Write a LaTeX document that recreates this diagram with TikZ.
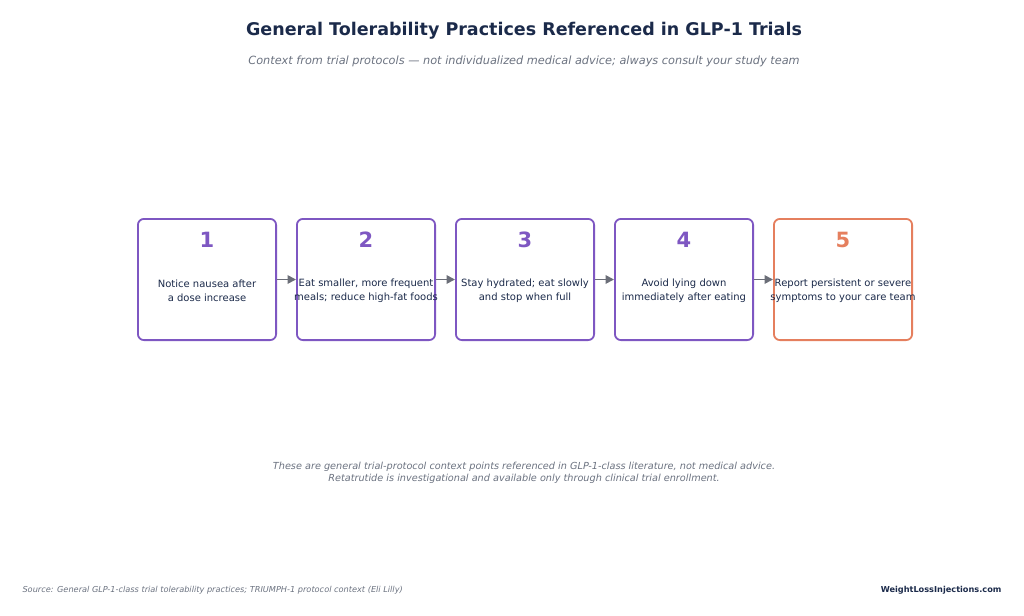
\documentclass[tikz,border=0pt]{standalone}
\usepackage{fontspec}
\setmainfont{DejaVu Sans}
\usepackage{tikz}
\usetikzlibrary{positioning,arrows.meta}

\definecolor{navy}{HTML}{1B2A4A}
\definecolor{subgray}{HTML}{6B7280}
\definecolor{stepviolet}{HTML}{7E57C2}
\definecolor{stepcoral}{HTML}{E57F5E}
\definecolor{arrowgray}{HTML}{6B6E78}

\tikzset{
  stepbox/.style={draw=stepviolet, line width=1.8pt, rounded corners=6pt, minimum width=138.2pt, minimum height=121.2pt, inner sep=0pt, fill=white},
  stepnum/.style={font=\fontsize{21}{21}\selectfont\bfseries, text=stepviolet},
  steptext/.style={font=\fontsize{10}{14}\selectfont, text=navy, align=center},
  flow/.style={-{Triangle[length=8.5pt,width=8.5pt]}, draw=arrowgray, line width=1.8pt}
}

\begin{document}
\begin{tikzpicture}[x=1pt,y=-1pt]
  \useasboundingbox (0,0) rectangle (1024,615);

  \node[font=\fontsize{17.5}{17.5}\selectfont\bfseries, text=navy] (title) at (524,31) {General Tolerability Practices Referenced in GLP-1 Trials};
  \node[font=\fontsize{11.3}{13}\selectfont\itshape, text=subgray] (subtitle) at (524,61) {Context from trial protocols — not individualized medical advice; always consult your study team};

  \node[stepbox] (box1) at (207,279.5) {};
  \node[stepbox, right=19pt of box1] (box2) {};
  \node[stepbox, right=19pt of box2] (box3) {};
  \node[stepbox, right=19pt of box3] (box4) {};
  \node[stepbox, draw=stepcoral, right=19pt of box4] (box5) {};

  \node[stepnum] (num1) at ([yshift=40pt]box1.center) {1};
  \node[stepnum] (num2) at ([yshift=40pt]box2.center) {2};
  \node[stepnum] (num3) at ([yshift=40pt]box3.center) {3};
  \node[stepnum] (num4) at ([yshift=40pt]box4.center) {4};
  \node[stepnum, text=stepcoral] (num5) at ([yshift=40pt]box5.center) {5};

  \node[steptext] (txt1) at ([yshift=-11pt]box1.center) {Notice nausea after\\a dose increase};
  \node[steptext] (txt2) at ([yshift=-11pt]box2.center) {Eat smaller, more frequent\\meals; reduce high-fat foods};
  \node[steptext] (txt3) at ([yshift=-11pt]box3.center) {Stay hydrated; eat slowly\\and stop when full};
  \node[steptext] (txt4) at ([yshift=-11pt]box4.center) {Avoid lying down\\immediately after eating};
  \node[steptext] (txt5) at ([yshift=-11pt]box5.center) {Report persistent or severe\\symptoms to your care team};

  \draw[flow] (box1) -- (box2);
  \draw[flow] (box2) -- (box3);
  \draw[flow] (box3) -- (box4);
  \draw[flow] (box4) -- (box5);

  \node[font=\fontsize{9.7}{12}\selectfont\itshape, text=subgray, align=center] (note) at (524,473) {These are general trial-protocol context points referenced in GLP-1-class literature, not medical advice.\\Retatrutide is investigational and available only through clinical trial enrollment.};

  \node[font=\fontsize{8.2}{9}\selectfont\itshape, text=subgray, anchor=west] (source) at (19,590) {Source: General GLP-1-class trial tolerability practices; TRIUMPH-1 protocol context (Eli Lilly)};
  \node[font=\fontsize{8.2}{9}\selectfont\bfseries, text=navy, anchor=east] (brand) at (1005,590) {WeightLossInjections.com};
\end{tikzpicture}
\end{document}
